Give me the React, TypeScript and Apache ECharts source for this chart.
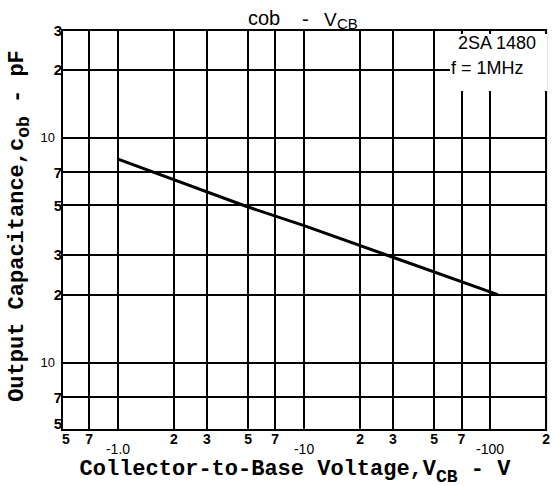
import React, { useEffect, useRef } from 'react';
import * as echarts from 'echarts';

// Collector-to-base voltage |V_CB| (V) grid values and their printed labels
const xTickValues = [0.5, 0.7, 1, 2, 3, 5, 7, 10, 20, 30, 50, 70, 100, 200];
const xTickLabels = ['5', '7', '-1.0', '2', '3', '5', '7', '-10', '2', '3', '5', '7', '-100', '2'];
// Output capacitance (pF) grid values and printed labels
const yTickValues = [5, 7, 10, 20, 30, 50, 70, 100, 200, 300];
const yTickLabels = ['5', '7', '10', '2', '3', '5', '7', '10', '2', '3'];
// Curve
const vcb = [1.0, 5, 10, 30, 110];
const cob = [80, 49, 40.5, 29.3, 20];

function lookupIndex(values: number[], v: number): number {
  let best = 0;
  let bd = Infinity;
  values.forEach((t, i) => {
    const d = Math.abs(Math.log(t) - Math.log(v));
    if (d < bd) {
      bd = d;
      best = i;
    }
  });
  return best;
}

export default function App() {
  const ref = useRef<HTMLDivElement>(null);
  useEffect(() => {
    if (!ref.current) return;
    const chart = echarts.init(ref.current, null, { renderer: 'svg' });
    const mono = 'Liberation Mono';
    const sans = 'Liberation Sans';
    chart.setOption({
      animation: false,
      backgroundColor: '#fff',
      grid: { left: 62, right: 3, top: 30, bottom: 56, show: true, borderColor: '#000', borderWidth: 2 },
      xAxis: {
        type: 'log',
        logBase: 10,
        min: 0.5,
        max: 200,
        axisLine: { show: true, onZero: false, lineStyle: { color: '#000', width: 2 } },
        axisTick: { show: false, customValues: xTickValues },
        minorTick: { show: false },
        minorSplitLine: { show: false },
        splitLine: { show: true, lineStyle: { color: '#000', width: 2 } },
        axisLabel: {
          customValues: xTickValues,
          margin: 2,
          showMinLabel: true,
          showMaxLabel: true,
          formatter: (v: number) => {
            const i = lookupIndex(xTickValues, v);
            const s = xTickLabels[i];
            if (i === 0) return `{f|${s}}`;
            return s.startsWith('-') ? `{d|${s}}` : `{n|${s}}`;
          },
          rich: {
            n: { fontFamily: sans, fontSize: 14, fontWeight: 'bold', color: '#000' },
            f: { fontFamily: sans, fontSize: 14, fontWeight: 'bold', color: '#000', padding: [0, 0, 0, 8] },
            d: { fontFamily: sans, fontSize: 14, color: '#000', padding: [10, 0, 0, 0] },
          },
        },
      },
      yAxis: {
        type: 'log',
        logBase: 10,
        min: 5,
        max: 300,
        axisLine: { show: true, onZero: false, lineStyle: { color: '#000', width: 2 } },
        axisTick: { show: false, customValues: yTickValues },
        minorTick: { show: false },
        minorSplitLine: { show: false },
        splitLine: { show: true, lineStyle: { color: '#000', width: 2 } },
        axisLabel: {
          customValues: yTickValues,
          margin: 0,
          showMinLabel: true,
          showMaxLabel: true,
          formatter: (v: number) => {
            const i = lookupIndex(yTickValues, v);
            const s = yTickLabels[i];
            if (i === 0) return `{b|${s}}`;
            return s === '10' ? `{d|${s}}` : `{n|${s}}`;
          },
          rich: {
            n: { fontFamily: sans, fontSize: 15, fontWeight: 'bold', color: '#000' },
            b: { fontFamily: sans, fontSize: 15, fontWeight: 'bold', color: '#000', padding: [0, 0, 14, 0] },
            d: { fontFamily: sans, fontSize: 13, color: '#000', padding: [0, 7, 0, 0] },
          },
        },
      },
      series: [
        {
          type: 'line',
          data: vcb.map((v, i) => [v, cob[i]]),
          showSymbol: false,
          symbol: 'none',
          lineStyle: { color: '#000', width: 3 },
          z: 5,
        },
      ],
      graphic: [
        { type: 'rect', z: 50, shape: { x: 450, y: 34, width: 97, height: 57 }, style: { fill: '#fff' } },
        { type: 'text', z: 51, x: 458, y: 43, style: { text: '2SA 1480', fontFamily: sans, fontSize: 18, fill: '#000', align: 'left', verticalAlign: 'middle' } },
        { type: 'text', z: 51, x: 451, y: 68, style: { text: 'f = 1MHz', fontFamily: sans, fontSize: 18, fill: '#000', align: 'left', verticalAlign: 'middle' } },
        { type: 'text', z: 51, x: 248, y: 18, style: { text: 'cob', fontFamily: sans, fontSize: 20, fill: '#000', align: 'left', verticalAlign: 'middle' } },
        { type: 'text', z: 51, x: 302, y: 19, style: { text: '-', fontFamily: sans, fontSize: 20, fill: '#000', align: 'left', verticalAlign: 'middle' } },
        { type: 'text', z: 51, x: 324, y: 19, style: { text: 'V', fontFamily: sans, fontSize: 19, fill: '#000', align: 'left', verticalAlign: 'middle' } },
        { type: 'text', z: 51, x: 337, y: 23, style: { text: 'CB', fontFamily: sans, fontSize: 15, fill: '#000', align: 'left', verticalAlign: 'middle' } },
        {
          type: 'text',
          z: 51,
          x: 295,
          y: 469,
          style: {
            text: '{m|Collector-to-Base Voltage,V}{s|CB}{m| - V}',
            align: 'center',
            verticalAlign: 'middle',
            rich: {
              m: { fontFamily: mono, fontSize: 22, fontWeight: 'bold', fill: '#000' },
              s: { fontFamily: mono, fontSize: 18, fontWeight: 'bold', fill: '#000', padding: [16, 0, 0, 0] },
            },
          },
        },
        {
          type: 'text',
          z: 51,
          x: 17,
          y: 226,
          rotation: Math.PI / 2,
          style: {
            text: '{m|Output Capacitance,c}{s|ob}{m| - pF}',
            align: 'center',
            verticalAlign: 'middle',
            rich: {
              m: { fontFamily: mono, fontSize: 22, fontWeight: 'bold', fill: '#000' },
              s: { fontFamily: mono, fontSize: 18, fontWeight: 'bold', fill: '#000', padding: [14, 0, 0, 0] },
            },
          },
        },
      ],
    });
    return () => chart.dispose();
  }, []);
  return <div ref={ref} style={{ position: 'fixed', left: 0, top: 0, width: 553, height: 486 }} />;
}
